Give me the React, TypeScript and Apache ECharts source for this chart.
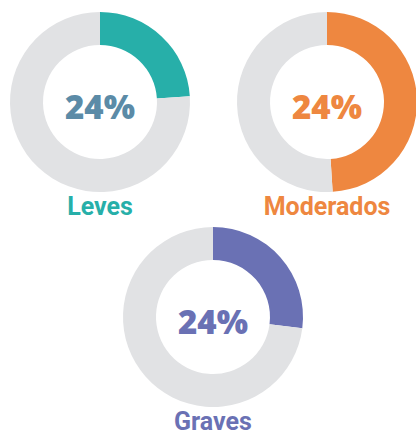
import React, { useEffect, useRef } from "react";
import * as echarts from "echarts";

const categories = ["Leves", "Moderados", "Graves"];
const arcShares = [24, 49, 27];
const centerLabels = ["24%", "24%", "24%"];

const arcColors = ["#27AFA9", "#EE8740", "#6A71B4"];
const percentColors = ["#5B8BA7", "#EE8740", "#6A71B4"];
const nameColors = ["#27AFA9", "#EE8740", "#6A71B4"];
const restColor = "#E1E2E4";

const centers: [number, number][] = [
  [100, 102],
  [327, 102],
  [213, 317],
];

export default function App() {
  const ref = useRef<HTMLDivElement>(null);
  useEffect(() => {
    if (!ref.current) return;
    const chart = echarts.init(ref.current, undefined, { renderer: "svg" });
    const series = categories.map((c, i) => ({
      type: "pie",
      name: c,
      center: centers[i],
      radius: [57, 90],
      startAngle: 90,
      clockwise: true,
      silent: true,
      label: { show: false },
      labelLine: { show: false },
      emphasis: { disabled: true },
      data: [
        { name: c, value: arcShares[i], itemStyle: { color: arcColors[i] } },
        { name: "resto", value: 100 - arcShares[i], itemStyle: { color: restColor } },
      ],
    }));
    const graphics: any[] = [];
    categories.forEach((c, i) => {
      graphics.push({
        type: "text",
        x: centers[i][0],
        y: centers[i][1] + 4,
        style: {
          text: centerLabels[i],
          fill: percentColors[i],
          font: "800 33px 'Open Sans'",
          textAlign: "center",
          textVerticalAlign: "middle",
        },
      });
      graphics.push({
        type: "text",
        x: centers[i][0],
        y: centers[i][1] + 104,
        style: {
          text: c,
          fill: nameColors[i],
          font: "bold 25px Roboto",
          textAlign: "center",
          textVerticalAlign: "middle",
        },
      });
    });
    chart.setOption({
      animation: false,
      backgroundColor: "#ffffff",
      series,
      graphic: graphics,
    });
    return () => chart.dispose();
  }, []);
  return (
    <div
      ref={ref}
      style={{ position: "fixed", left: 0, top: 0, width: 416, height: 436 }}
    />
  );
}
